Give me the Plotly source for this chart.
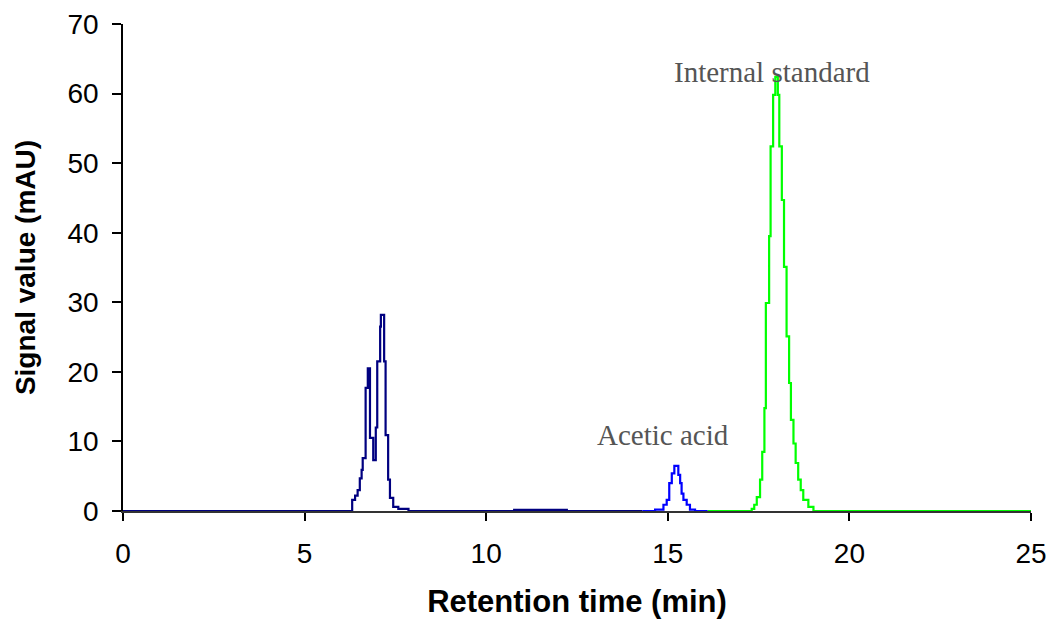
import plotly.graph_objects as go

# ---- data (step-sampled chromatogram, hv steps) ----
navy_t = [0.0, 6.30, 6.31, 6.39, 6.46, 6.52, 6.57, 6.60, 6.68, 6.74, 6.80, 6.89, 6.96, 7.00, 7.08, 7.10,
          7.19, 7.23, 7.30, 7.35, 7.44, 7.58, 7.86, 10.77, 12.22, 14.30]
navy_y = [0.0, 0.0, 1.6, 2.2, 3.0, 4.7, 5.9, 7.6, 17.7, 20.5, 10.5, 7.3, 12.0, 21.5, 26.5, 28.2,
          21.5, 10.9, 4.5, 1.9, 0.6, 0.3, 0.0, 0.15, 0.0, 0.0]

acetic_t = [14.30, 14.65, 14.88, 14.97, 15.04, 15.11, 15.18, 15.29, 15.34, 15.38, 15.43, 15.52, 15.61, 15.75, 16.10]
acetic_y = [0.0, 0.2, 0.9, 1.6, 4.0, 5.4, 6.5, 5.2, 4.0, 2.5, 1.6, 0.9, 0.2, 0.0, 0.0]

istd_t = [16.10, 17.31, 17.38, 17.45, 17.54, 17.60, 17.66, 17.70, 17.79, 17.83, 17.90, 17.96, 18.03,
          18.07, 18.14, 18.20, 18.27, 18.34, 18.39, 18.46, 18.52, 18.59, 18.66, 18.73, 18.87, 19.01, 25.0]
istd_y = [0.0, 0.3, 0.9, 2.0, 4.5, 8.5, 14.8, 29.9, 39.5, 52.4, 59.8, 62.4, 59.8,
          52.4, 44.7, 35.1, 25.1, 18.4, 13.1, 9.7, 6.9, 4.5, 3.0, 1.6, 0.6, 0.0, 0.0]

x_ticks = [0, 5, 10, 15, 20, 25]
y_ticks = [0, 10, 20, 30, 40, 50, 60, 70]

labels = ["Internal standard", "Acetic acid"]
label_x = [17.87, 14.87]
label_y = [60.5, 8.4]

fig = go.Figure()
fig.add_trace(go.Scatter(x=navy_t, y=navy_y, mode="lines", line=dict(color="#000080", width=2.2, shape="hv"),
                         showlegend=False))
fig.add_trace(go.Scatter(x=acetic_t, y=acetic_y, mode="lines", line=dict(color="#0000FF", width=2.2, shape="hv"),
                         showlegend=False))
fig.add_trace(go.Scatter(x=istd_t, y=istd_y, mode="lines", line=dict(color="#00FF00", width=2.2, shape="hv"),
                         showlegend=False))

for txt, xx, yy in zip(labels, label_x, label_y):
    fig.add_annotation(x=xx, y=yy, text=txt, showarrow=False, xanchor="center", yanchor="bottom",
                       font=dict(family="Liberation Serif", size=29, color="#555555"))

fig.update_layout(
    width=1046, height=611,
    margin=dict(l=115, r=23, t=16, b=108, autoexpand=False),
    paper_bgcolor="white", plot_bgcolor="white",
    font=dict(family="Liberation Sans", color="black"),
)
fig.update_xaxes(
    range=[0, 25], tickvals=x_ticks, ticktext=[str(v) for v in x_ticks],
    showgrid=False, zeroline=False, showline=True, linecolor="#333333", linewidth=1.5,
    ticks="outside", ticklen=8, tickcolor="black", tickwidth=1.5, automargin=False,
    tickfont=dict(size=28, family="Liberation Sans"), ticklabelstandoff=9,
    layer="below traces",
    title=dict(text="<b>Retention time (min)</b>", font=dict(size=31, family="Liberation Sans"), standoff=29),
)
fig.update_yaxes(
    range=[0, 70], tickvals=y_ticks, ticktext=[str(v) for v in y_ticks],
    showgrid=False, zeroline=False, showline=True, linecolor="black", linewidth=1.5,
    ticks="outside", ticklen=9, tickcolor="black", tickwidth=1.5, automargin=False,
    tickfont=dict(size=28, family="Liberation Sans"), ticklabelstandoff=8,
    layer="below traces",
    title=dict(text="<b>Signal value (mAU)</b>", font=dict(size=28, family="Liberation Sans"), standoff=24),
)

fig.write_html("out.html")
